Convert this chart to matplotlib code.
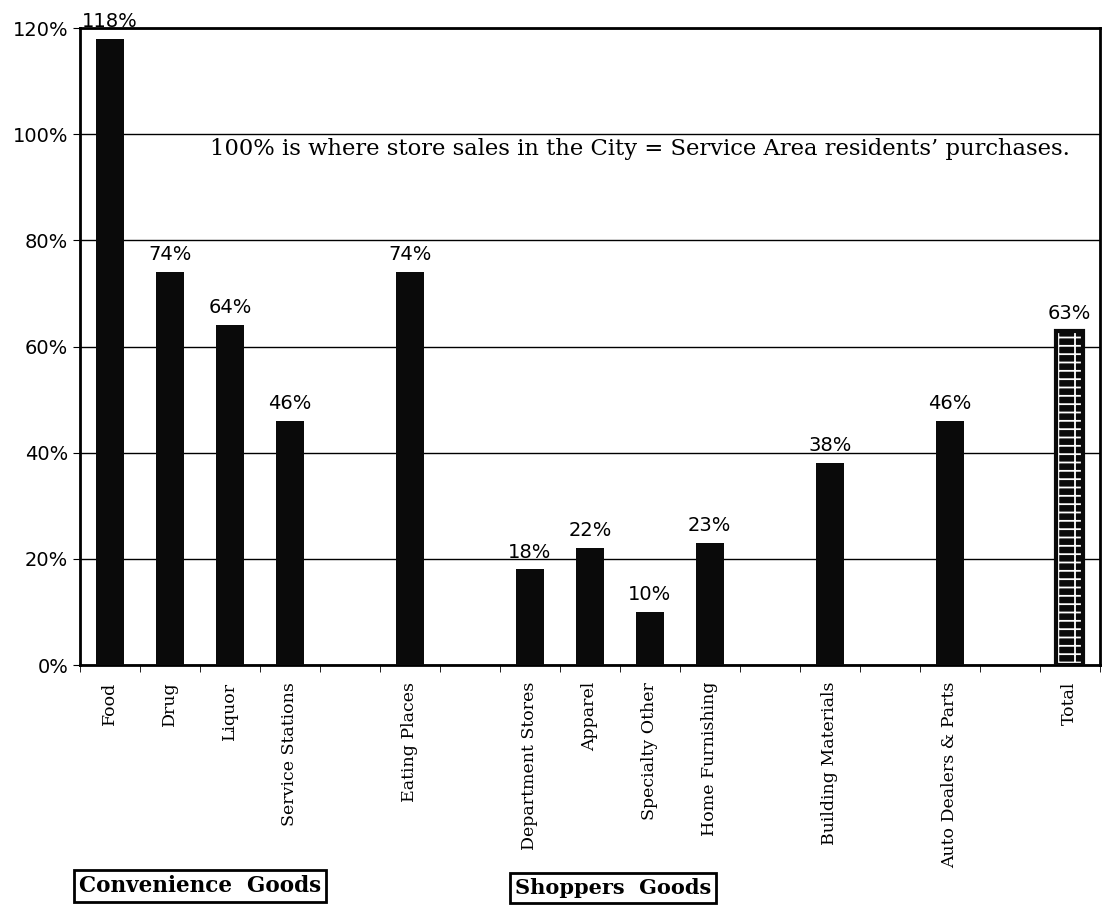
import matplotlib
matplotlib.use('Agg')
import matplotlib.pyplot as plt

categories = ['Food', 'Drug', 'Liquor', 'Service Stations', 'Eating Places',
              'Department Stores', 'Apparel', 'Specialty Other', 'Home Furnishing',
              'Building Materials', 'Auto Dealers & Parts', 'Total']
slots = [0, 1, 2, 3, 5, 7, 8, 9, 10, 12, 14, 16]
values = [118, 74, 64, 46, 74, 18, 22, 10, 23, 38, 46, 63]
yticks = [0, 20, 40, 60, 80, 100, 120]

serif = 'DejaVu Serif'
sans = 'DejaVu Sans'

fig = plt.figure(figsize=(11.03, 9.06), dpi=100)
ax = fig.add_axes([0.0725, 0.266, 0.9245, 0.703])

ax.bar(slots[:-1], values[:-1], width=0.46, color='#0a0a0a', zorder=3)
# total bar: black with white grid hatch
plt.rcParams['hatch.linewidth'] = 1.3
ax.bar(slots[-1], values[-1], width=0.46, color='#0a0a0a', edgecolor='white',
       hatch='|--', linewidth=0, zorder=3)
ax.bar(slots[-1], values[-1], width=0.46, fill=False, edgecolor='#0a0a0a',
       linewidth=3, zorder=4)

for x, v in zip(slots, values):
    ax.text(x, v + 1.5, '%d%%' % v, ha='center', va='bottom', fontsize=14,
            family=sans, clip_on=False)

ax.set_xlim(-0.5, 16.5)
ax.set_ylim(0, 120)
ax.set_yticks(yticks)
ax.set_yticklabels(['%d%%' % t for t in yticks], family=sans, fontsize=14)
ax.yaxis.grid(True, color='black', linewidth=1)
ax.set_axisbelow(True)

ax.set_xticks(slots)
ax.set_xticklabels(categories, rotation=90, family=serif, fontsize=12.5)
ax.tick_params(axis='x', which='major', length=0, pad=12)
ax.set_xticks([i + 0.5 for i in range(-1, 17)], minor=True)
ax.tick_params(axis='x', which='minor', length=5, direction='out')
ax.tick_params(axis='y', length=5, direction='out')

for s in ax.spines.values():
    s.set_linewidth(2)

ax.text(1.67, 99.3, "100% is where store sales in the City = Service Area residents\u2019 purchases.",
        ha='left', va='top', fontsize=16.3, family=serif)

fig.text(200 / 1103, 1 - 886 / 906, 'Convenience  Goods', ha='center', va='center',
         fontsize=15.5, fontweight='bold', family=serif,
         bbox=dict(boxstyle='square,pad=0.25', facecolor='white', edgecolor='black', linewidth=2))
fig.text(613 / 1103, 1 - 888 / 906, 'Shoppers  Goods', ha='center', va='center',
         fontsize=15, fontweight='bold', family=serif,
         bbox=dict(boxstyle='square,pad=0.25', facecolor='white', edgecolor='black', linewidth=2))

fig.savefig('out.png', dpi=100)
